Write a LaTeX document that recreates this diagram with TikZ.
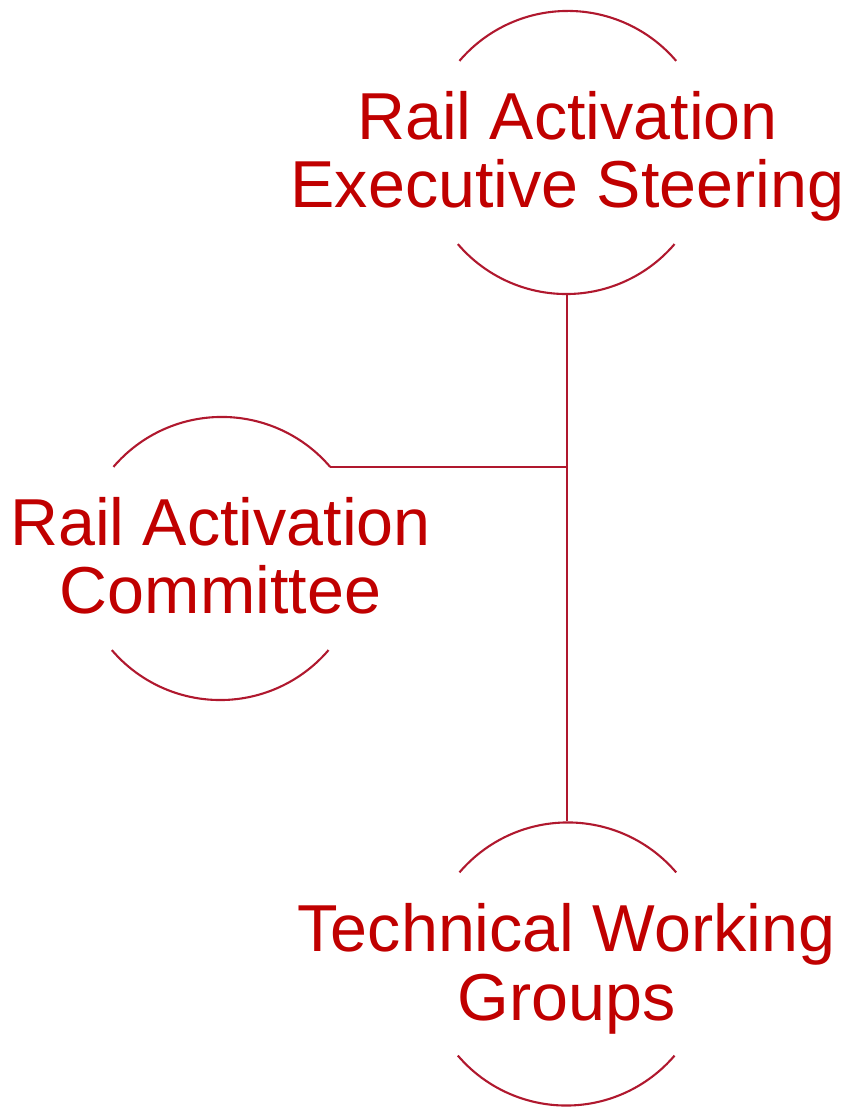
\documentclass[tikz,border=0pt]{standalone}
\usepackage{fontspec}
\setmainfont{Liberation Sans}
\definecolor{linec}{RGB}{176,24,46}
\definecolor{textc}{RGB}{192,0,0}
\begin{document}
\begin{tikzpicture}[x=1pt,y=1pt,
  ring/.style={circle, minimum size=285pt, inner sep=0pt, outer sep=0pt, draw=none},
  arcline/.style={draw=linec, line width=2.1pt},
  txt/.style={text=textc, align=center, font=\fontsize{66.4}{68.5}\selectfont, inner sep=0pt}]
\useasboundingbox (0,0) rectangle (851,1107);
\node[ring] (c1) at (567,954.5) {};
\node[ring] (c2) at (221,548.5) {};
\node[ring] (c3) at (567,143) {};
\foreach \nn in {c1,c2,c3} {
  \draw[arcline] (\nn.40.5) arc[start angle=40.5,end angle=139.5,radius=142.5pt];
  \draw[arcline] (\nn.220.5) arc[start angle=220.5,end angle=319.5,radius=142.5pt];
}
\coordinate (j) at (c1.south |- c2.40.5);
\draw[arcline] (c1.south) -- (c3.north);
\draw[arcline] (c2.40.5) -- (j);
\node[txt] (t1) at (567.5,950.5) {Rail Activation\\Executive Steering};
\node[txt] (t2) at (220.5,551.3) {Rail Activation\\Committee};
\node[txt] (t3) at (566.5,138.2) {Technical Working\\Groups};
\end{tikzpicture}
\end{document}
